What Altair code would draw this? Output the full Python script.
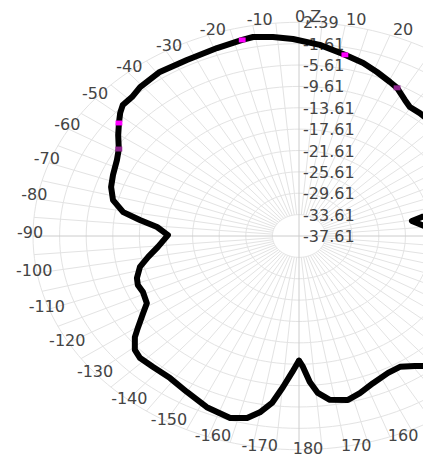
import altair as alt
import pandas as pd

# ---------------- data ----------------
angle_deg = [-180.0, -177.7, -175.1, -172.6, -169.9, -167.1, -163.1, -156.6, -150.0, -143.9,
             -138.2, -133.7, -130.8, -127.5, -125.2, -121.6, -118.8, -114.1, -110.7, -107.9,
             -103.6, -99.8, -95.5, -89.5, -85.5, -82.9, -80.4, -76.5, -72.0, -67.8,
             -62.5, -59.0, -55.2, -52.0, -49.4, -47.2, -44.0, -40.6, -34.3, -27.1,
             -19.3, -13.1, -10.5, -6.0, -1.4, 5.0, 11.5, 16.6, 20.9, 25.4,
             28.0, 32.0, 34.6, 38.3, 42.9, 50.0, 60.0, 70.0, 77.5, 79.1,
             80.6, 85.7, 88.5, 100.0, 120.0, 137.9, 140.8, 144.4, 148.2, 152.4,
             158.0, 162.7, 166.5, 171.4, 174.5, 176.6, 178.6]
gain_db = [-14.3, -12.1, -9.2, -6.1, -4.1, -2.65, -2.0, -2.7, -3.9, -4.7,
           -4.7, -4.55, -5.0, -6.5, -8.0, -10.1, -11.5, -11.9, -11.7, -12.0,
           -13.0, -14.6, -16.3, -17.9, -16.2, -13.5, -10.8, -8.85, -7.9, -7.4,
           -6.75, -6.0, -4.5, -3.25, -2.2, -1.5, -1.45, -0.9, -0.45, -0.6,
           -0.33, 0.07, 0.27, -0.16, -0.73, -1.7, -3.0, -3.8, -4.75, -5.7,
           -6.2, -7.57, -8.26, -8.3, -8.5, -9.5, -11.0, -14.0, -15.1, -18.8,
           -20.4, -17.9, -15.6, -12.0, -10.0, -4.85, -6.2, -7.7, -8.8, -8.7,
           -7.9, -6.8, -6.05, -6.6, -8.1, -10.25, -13.1]

marker_angle = [-13.1, 11.5, 28.0, -52.0, -59.0]
marker_gain = [0.07, -3.0, -6.2, -3.25, -6.0]
marker_tone = ["bright", "bright", "dim", "bright", "dim"]

ring_values = [-37.61, -33.61, -29.61, -25.61, -21.61, -17.61, -13.61, -9.61, -5.61, -1.61, 2.39]
ring_labels = ["-37.61", "-33.61", "-29.61", "-25.61", "-21.61", "-17.61", "-13.61",
               "-9.61", "-5.61", "-1.61", "2.39"]

# angle labels visible in the (cropped) reference
angle_ticks = [-170, -160, -150, -140, -130, -120, -110, -100, -90, -80, -70, -60,
               -50, -40, -30, -20, -10, 0, 10, 20, 160, 170, 180]
angle_labels = ["0,Z" if a == 0 else str(a) for a in angle_ticks]

R_MIN, R_MAX = -37.61, 2.39

# ---------------- layout ----------------
W, H = 415, 450            # page is 431x466 with an 8px body margin
CX, CY = 291.0, 228.0      # pole position inside the plot area (px)
RX, RY = 266.0, 213.7      # outer ring radii (px) – the chart is stretched horizontally
xs = alt.Scale(domain=[-CX / RX, (W - CX) / RX], nice=False, zero=False)
ys = alt.Scale(domain=[-(H - CY) / RY, CY / RY], nice=False, zero=False)
X = alt.X("px:Q", scale=xs, axis=None)
Y = alt.Y("py:Q", scale=ys, axis=None)

RN = f"(datum.g - ({R_MIN})) / ({R_MAX} - ({R_MIN}))"
PX = "datum.rn * sin(datum.a * PI / 180)"
PY = "datum.rn * cos(datum.a * PI / 180)"

FONT = "DejaVu Sans"
TXT = "#444444"

# grid rings
ring_rows = []
for rv in ring_values[1:]:
    for a in range(0, 362, 2):
        ring_rows.append({"ring": rv, "g": rv, "a": a})
rings = alt.Chart(pd.DataFrame(ring_rows)).transform_calculate(
    rn=RN).transform_calculate(px=PX, py=PY).mark_line(
    color="#e3e3e3", strokeWidth=1).encode(
    x=X, y=Y, detail="ring:N", order="a:Q")

# spokes every 5 degrees (from first ring to outer ring)
spoke_rows = [{"a": a, "g0": ring_values[1], "g1": ring_values[-1]}
              for a in range(0, 360, 5) if a % 90 != 0]
spokes = alt.Chart(pd.DataFrame(spoke_rows)).transform_calculate(
    r0=f"(datum.g0 - ({R_MIN})) / ({R_MAX} - ({R_MIN}))",
    r1=f"(datum.g1 - ({R_MIN})) / ({R_MAX} - ({R_MIN}))").transform_calculate(
    px="datum.r0 * sin(datum.a * PI / 180)", py="datum.r0 * cos(datum.a * PI / 180)",
    px2="datum.r1 * sin(datum.a * PI / 180)", py2="datum.r1 * cos(datum.a * PI / 180)"
).mark_rule(color="#e3e3e3", strokeWidth=1).encode(x=X, y=Y, x2="px2:Q", y2="py2:Q")

# main axes through the pole
axis_rows = [{"a": 0}, {"a": 90}]
axes = alt.Chart(pd.DataFrame(axis_rows)).transform_calculate(
    px="sin(datum.a * PI / 180)", py="cos(datum.a * PI / 180)",
    px2="-sin(datum.a * PI / 180)", py2="-cos(datum.a * PI / 180)"
).mark_rule(color="#cccccc", strokeWidth=1).encode(x=X, y=Y, x2="px2:Q", y2="py2:Q")

# radial labels
ring_df = pd.DataFrame({"g": ring_values, "label": ring_labels, "a": [0] * len(ring_values)})
ring_text = alt.Chart(ring_df).transform_calculate(rn=RN).transform_calculate(
    px=PX, py=PY).mark_text(align="left", baseline="middle", dx=4, dy=1, font=FONT,
                            fontSize=16, color=TXT).encode(x=X, y=Y, text="label:N")

# angle labels (placed on a slightly larger ellipse)
ang_df = pd.DataFrame({"a": angle_ticks, "label": angle_labels})
ang_text = alt.Chart(ang_df).transform_calculate(
    px="1.045 * sin(datum.a * PI / 180)", py="1.012 * cos(datum.a * PI / 180)"
).mark_text(align="center", baseline="middle", dx=9, dy=-3, font=FONT,
            fontSize=16, color=TXT).encode(x=X, y=Y, text="label:N")

# pattern curve (closed)
curve_df = pd.DataFrame({"a": angle_deg, "g": gain_db})
curve_df["i"] = range(len(curve_df))
curve_df = pd.concat([curve_df, curve_df.iloc[[0]].assign(i=len(curve_df))])
curve = alt.Chart(curve_df).transform_calculate(rn=RN).transform_calculate(
    px=PX, py=PY).mark_line(color="black", strokeWidth=6, strokeJoin="round",
                            strokeCap="round", clip=True).encode(
    x=X, y=Y, order="i:Q")

# markers
mk_df = pd.DataFrame({"a": marker_angle, "g": marker_gain, "tone": marker_tone})
markers = alt.Chart(mk_df).transform_calculate(rn=RN).transform_calculate(
    px=PX, py=PY).mark_point(shape="M-1.25,-0.9L1.25,-0.9L1.25,0.9L-1.25,0.9Z",
                             filled=True, size=30, opacity=1, clip=True).encode(
    x=X, y=Y,
    color=alt.Color("tone:N", scale=alt.Scale(domain=["bright", "dim"],
                                               range=["#ff00ff", "#8e248e"]), legend=None))

chart = alt.layer(rings, spokes, axes, ring_text, ang_text, curve, markers).properties(
    width=W, height=H, padding=0,
    autosize=alt.AutoSizeParams(type="none"),
).configure_view(stroke=None)

chart.save("out.html", embed_options={"renderer": "svg", "actions": False})
